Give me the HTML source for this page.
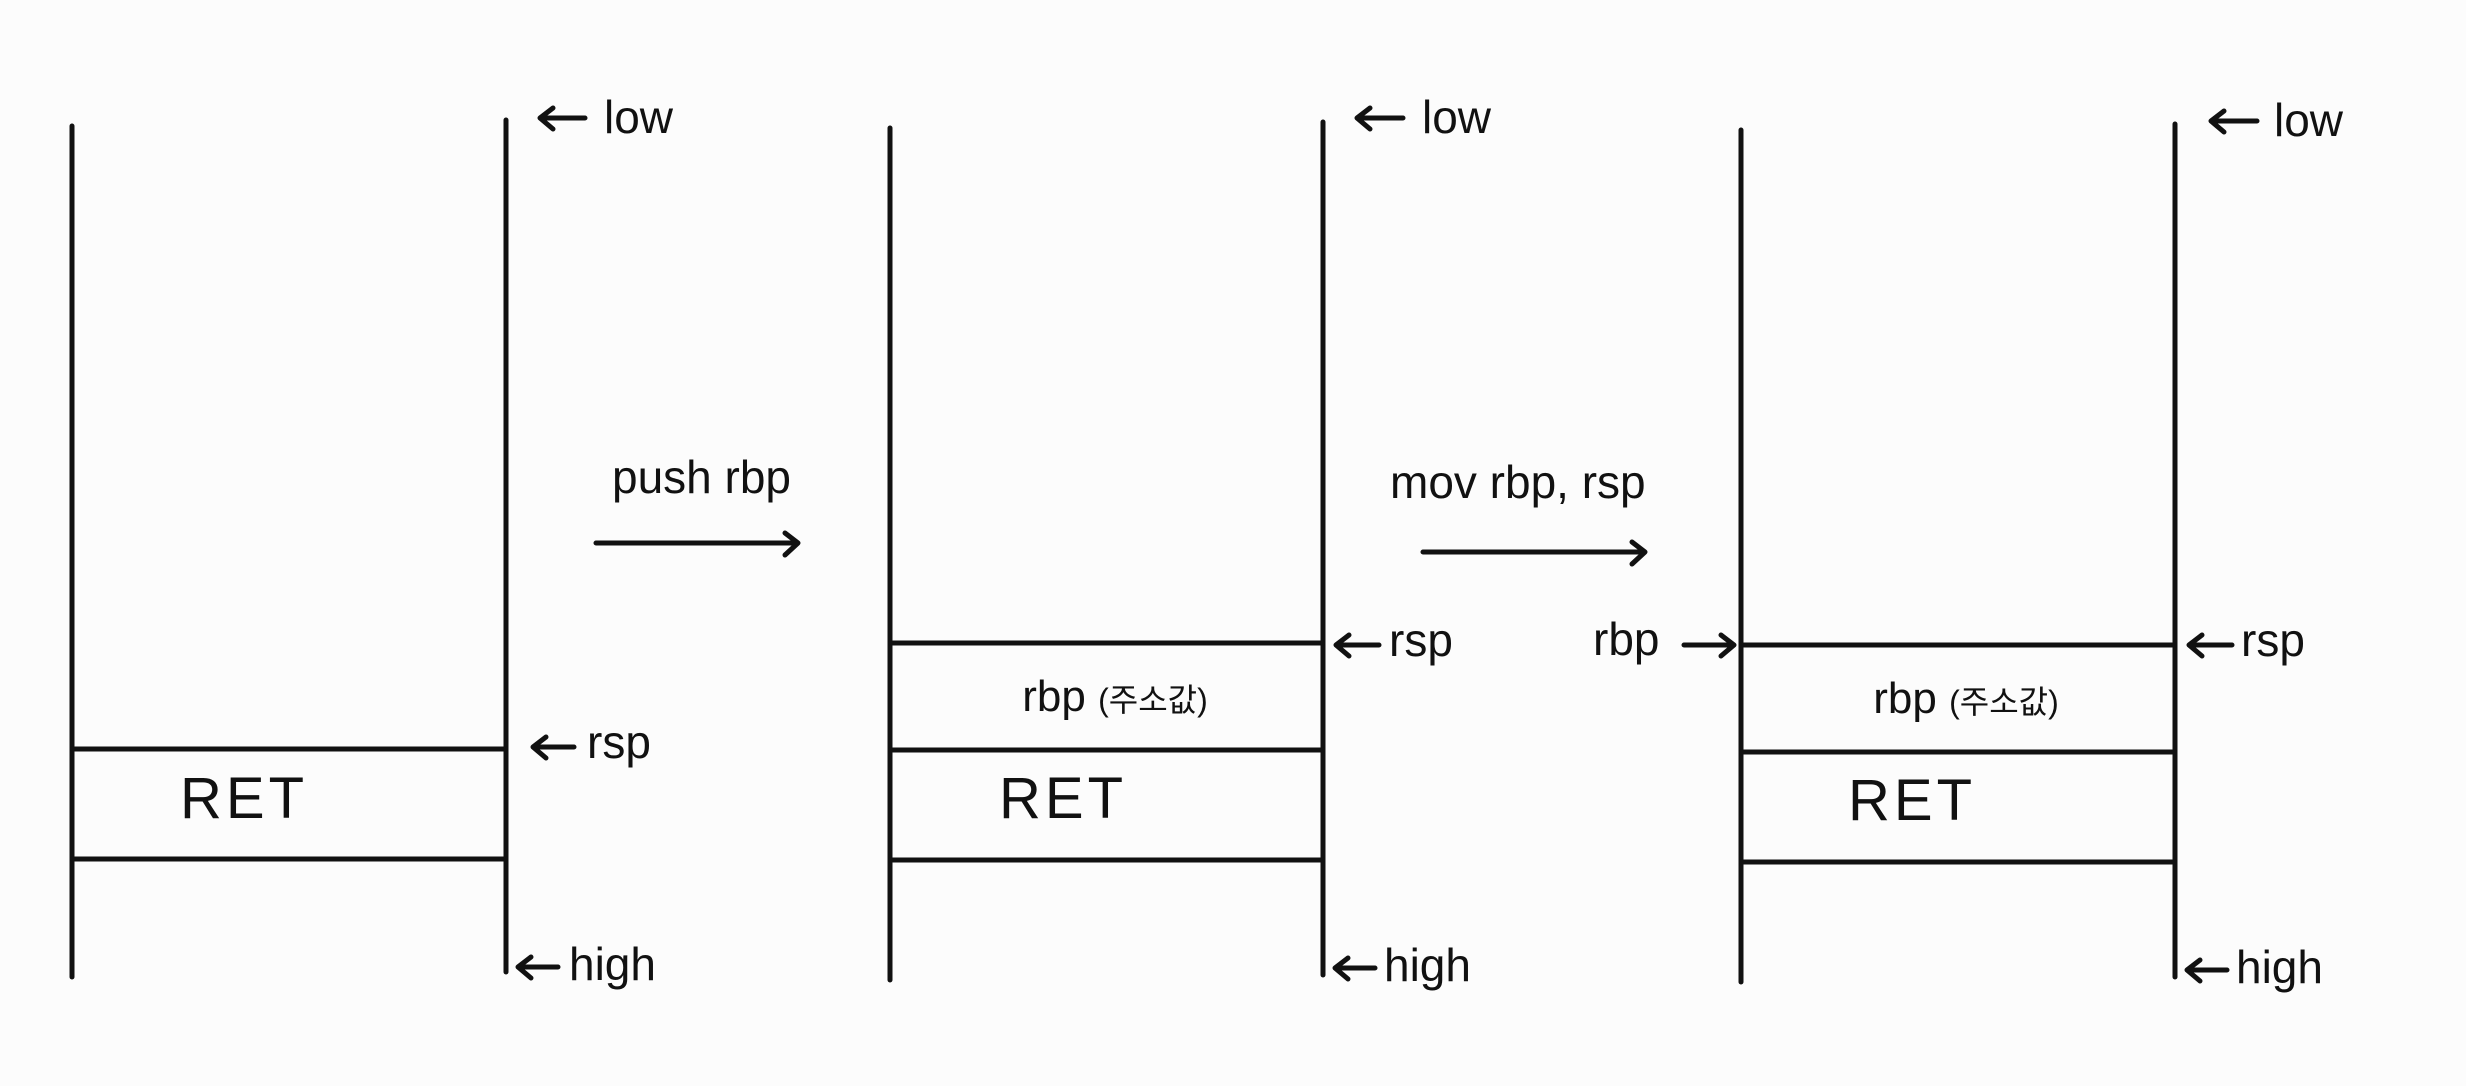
<!DOCTYPE html>
<html><head><meta charset="utf-8"><style>
html,body{margin:0;padding:0;background:#fcfcfc;}
svg{display:block}
text{font-family:"Liberation Sans","Noto Sans CJK KR",sans-serif;fill:#111;}
</style></head><body>
<svg width="2466" height="1086" viewBox="0 0 2466 1086" xmlns="http://www.w3.org/2000/svg">
<g stroke="#111" stroke-width="5" fill="none" stroke-linecap="round" stroke-linejoin="round">
<line x1="72" y1="126" x2="72" y2="977"/>
<line x1="506" y1="120" x2="506" y2="972"/>
<line x1="72" y1="749" x2="506" y2="749"/>
<line x1="72" y1="859" x2="506" y2="859"/>
<line x1="890" y1="128" x2="890" y2="980"/>
<line x1="1323" y1="122" x2="1323" y2="975"/>
<line x1="890" y1="643" x2="1323" y2="643"/>
<line x1="890" y1="750" x2="1323" y2="750"/>
<line x1="890" y1="860" x2="1323" y2="860"/>
<line x1="1741" y1="130" x2="1741" y2="982"/>
<line x1="2175" y1="124" x2="2175" y2="977"/>
<line x1="1741" y1="645" x2="2175" y2="645"/>
<line x1="1741" y1="752" x2="2175" y2="752"/>
<line x1="1741" y1="862" x2="2175" y2="862"/>
<path d="M596 543 H797 M785 533 L798 543 L785 555"/>
<path d="M1423 552 H1644 M1632 542 L1645 552 L1632 564"/>
<path d="M585 118 H541 M553 108 L540 118 L553 129"/>
<path d="M574 747 H534 M546 737 L533 747 L546 758"/>
<path d="M558 967 H519 M531 957 L518 967 L531 978"/>
<path d="M1403 118 H1358 M1370 108 L1357 118 L1370 129"/>
<path d="M1379 645 H1337 M1349 635 L1336 645 L1349 656"/>
<path d="M1375 968 H1336 M1348 958 L1335 968 L1348 979"/>
<path d="M2257 121 H2212 M2224 111 L2211 121 L2224 132"/>
<path d="M2232 645 H2190 M2202 635 L2189 645 L2202 656"/>
<path d="M2227 970 H2188 M2200 960 L2187 970 L2200 981"/>
<path d="M1684 645 H1733 M1721 635 L1734 645 L1721 656"/>
</g>
<g font-size="46">
<text x="604" y="133">low</text>
<text x="587" y="758">rsp</text>
<text x="569" y="980">high</text>
<text x="1422" y="133">low</text>
<text x="1389" y="656">rsp</text>
<text x="1384" y="981">high</text>
<text x="2274" y="136">low</text>
<text x="2241" y="656">rsp</text>
<text x="2236" y="983">high</text>
<text x="1593" y="655">rbp</text>
<text x="612" y="493">push rbp</text>
<text x="1390" y="498">mov rbp, rsp</text>
</g>
<g font-size="58" letter-spacing="4">
<text x="244" y="818" text-anchor="middle">RET</text>
<text x="1063" y="818" text-anchor="middle">RET</text>
<text x="1912" y="820" text-anchor="middle">RET</text>
</g>
<g font-size="44">
<text x="1115" y="711" text-anchor="middle">rbp <tspan font-size="32">(주소값)</tspan></text>
<text x="1966" y="713" text-anchor="middle">rbp <tspan font-size="32">(주소값)</tspan></text>
</g>
</svg>
</body></html>
